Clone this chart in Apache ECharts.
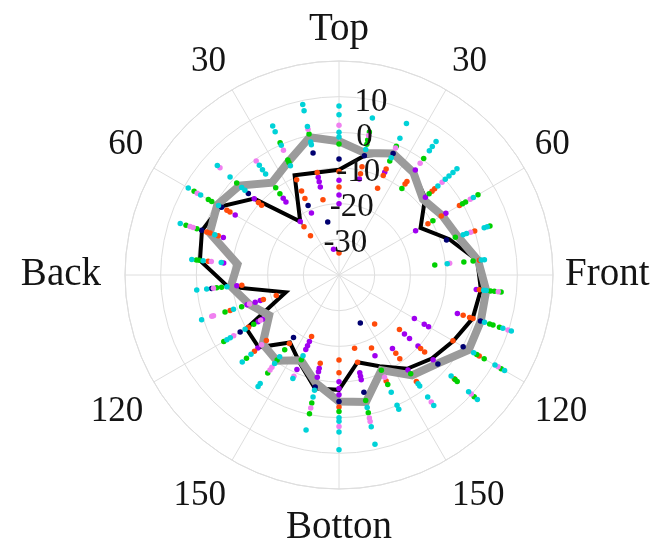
<!DOCTYPE html>
<html>
<head>
<meta charset="utf-8">
<script src="https://cdn.jsdelivr.net/npm/echarts/dist/echarts.min.js"></script>
<style>
  html, body { margin: 0; padding: 0; background: #ffffff; }
  #chart { width: 661px; height: 542px; }
</style>
</head>
<body>
<div id="chart"></div>
<script>
// Direction of each measurement ray, clockwise from the top (degrees)
const angles = [0, 12, 24, 36, 48, 60, 72, 84, 96, 108, 120, 132, 144, 156, 168,
                180, 192, 204, 216, 228, 240, 252, 264, 276, 288, 300, 312, 324, 336, 348];

// Black profile (one value per ray)
const blackProfile = [-10.5, -5.8, -2.7, -4.5, -7.5, -13.6, -7.5, -1, 0, -0.6, -3, -5, -7.5, -12, -15,
                      -7.8, -7.5, -13, -16.6, -9.7, -10, -24.3, -8.7, -0.8, 0.4, -1.6, -8, -21.5, -9.4, -10.6];

// Grey profile (one value per ray)
const greyProfile = [-2.5, -5, -2.7, -4.5, -8.3, -6.6, -5, -0.8, 1.5, 1.8, 2, -2.9, -5.2, -10.8, -3.6,
                     -4.5, -9, -13.8, -10.3, -11.2, -17.4, -13.5, -9.5, -11.4, -1.9, -0.6, -2.5, -8, -5.2, -0.5];

// Individual measurements as [angle, value]
const navyPts = [[0,-7.5],[12,-5.8],[24,-2.7],[72,-8.3],[108,1.7],[120,0.2],[132,-2.7],[156,-25.3],[168,-6.4],
  [180,-4.5],[192,-7.9],[216,-18.3],[240,-8],[264,-4.1],[288,0.5],[300,-2],[312,-5.8],[336,-18.7],[348,-5],[348,-24.8]];

const purplePts = [[0,-13.4],[0,-17.6],[0,-20],[12,-12.5],[24,-8.5],[36,-3.6],[48,-7.4],[60,-5.4],[60,-15.2],[96,-1.3],
  [108,-5.1],[120,-11],[120,-12.4],[120,-15.6],[132,-4.5],[132,-10.2],[132,-13.4],[132,-15.3],[144,-7.1],[144,-14.5],
  [156,-15.2],[168,-10],[168,-11],[168,-12],[180,-6.4],[180,-8.2],[180,-10.1],[192,-10.7],[192,-12.3],[192,-13.3],
  [204,-11],[204,-17.1],[204,-18.3],[204,-19.6],[228,-9.4],[240,-13.8],[240,-15.2],[252,-12.9],[252,-15.3],[252,-16.8],
  [264,-11.2],[276,-7.5],[288,-5.9],[300,-6.4],[312,-8],[324,-13.4],[324,-14.7],[324,-21.5],[336,-21],
  [348,-12],[348,-13.3],[348,-14.8],[348,-32.6]];

const orangePts = [[0,-11],[0,-15.3],[0,-33.8],[12,-9],[12,-11],[24,-7.5],[24,-9.5],[24,-13.4],[36,-7.6],[36,-8.5],
  [48,-3.9],[48,-4.9],[60,-1],[60,-6.9],[60,-11.2],[72,0],[84,-0.4],[96,-0.4],[108,-0.5],[108,-1.5],[108,-3.4],
  [120,5.4],[120,-3.1],[132,3.5],[132,-7.7],[132,-9.2],[132,-17.2],[144,-3.1],[144,-11],[144,-12.9],[144,-23],
  [156,-7.5],[156,-17.6],[168,-15],[168,-19],[180,-3],[180,-12.6],[180,-16.2],[192,-14.7],[204,-21.1],[216,-16.3],
  [228,-8.1],[228,-12.6],[240,-10.7],[252,-7.9],[252,-17.7],[252,-21.5],[264,-12.6],[276,-3.1],[288,-1],[288,-2],
  [288,-4.4],[300,-3.7],[300,-4.7],[312,-9.6],[312,-10.8],[324,-23.3],[324,-26.4],[336,-10.8],[336,-14.2],[336,-16.5],
  [348,-10.6],[348,-18.4]];

const greenPts = [[0,-3.3],[12,1],[12,-1.3],[12,-2.5],[24,-0.5],[24,-5],[36,0.4],[36,-10],[48,-6],[60,5],[60,1],[60,0],
  [60,-9.6],[72,4.5],[72,-5.7],[84,-2.2],[84,-4.8],[84,-13],[96,5.7],[96,3.8],[96,2.7],[108,7.3],[108,5.4],[108,4.4],
  [120,12.5],[120,7],[120,4.6],[132,11],[132,4.6],[132,3.8],[144,-5.8],[156,-6.4],[156,-10.8],[168,-0.5],[168,-4],
  [180,-1.7],[192,-0.2],[192,-3.3],[204,-14],[216,-6],[216,-10.5],[216,-14.1],[228,-5.1],[240,-2.7],[240,-12.4],
  [252,-6.4],[252,-11.3],[264,-5.5],[264,-6.9],[276,0.2],[276,-0.6],[288,5.1],[288,1.9],[300,6.9],[300,2.3],[300,1.2],
  [312,-1.4],[324,-9.8],[324,-11.8],[336,0.6],[336,-4.7],[336,-5.5],[348,0.4]];

const pinkPts = [[0,2],[12,0],[24,-1],[36,-1.3],[48,-1.1],[60,2.5],[72,-1.2],[84,-8.8],[96,4.9],[108,9.8],[120,11.5],
  [132,9.9],[144,4],[156,-8.6],[168,2],[168,1],[180,2.5],[192,-1.9],[204,-8.9],[216,-7.1],[216,-8],[228,-10.8],
  [240,-5.9],[240,-14.6],[252,-2.5],[252,-3],[252,-13.6],[264,-4.6],[276,-4],[288,3.9],[288,3],[300,5.9],[312,4.9],
  [324,-0.5],[336,-1.7],[348,1.8]];

const cyanPts = [[0,7.4],[0,4.9],[0,0],[0,-1.3],[12,5],[12,-4],[24,6.5],[24,2],[24,-4],[36,6.3],[36,4.5],[36,3.1],
  [48,4.5],[48,3],[48,1.5],[48,0.1],[48,-2.7],[60,3.5],[72,3.7],[72,2.8],[72,-2.4],[72,-3.4],[84,1],[84,0.1],[84,-9.5],
  [96,1.5],[96,0.8],[108,10.8],[108,8.3],[108,2.9],[120,13.6],[120,10.5],[120,3.6],[132,12.2],[132,8.9],[132,2.3],
  [144,5.2],[144,2.3],[144,-1.5],[144,-2.3],[156,1.2],[156,0],[156,-4],[168,8.5],[168,3.5],[168,-2],[180,9],[180,4],
  [180,1],[180,0],[192,4.4],[192,-5],[192,-7],[204,-8.2],[204,-15.2],[216,-1.4],[216,-2.4],[216,-9.3],[216,-11.7],
  [228,-3.5],[228,-6.8],[240,-3.7],[240,-4.8],[240,-9.6],[252,0.5],[252,-8.9],[264,0.1],[264,-2.7],[264,-8.4],
  [276,1.5],[276,-1.7],[276,-6.8],[288,6.8],[288,-3.4],[300,8.8],[300,4.8],[300,-1],[312,5.9],[312,1.1],[312,-3.3],
  [312,-4.5],[324,-2],[324,-3.5],[324,-5],[336,5.7],[336,4],[336,-0.2],[336,-6.5],[348,8.9],[348,7.1],[348,2.6],
  [348,-1.9],[348,-2.7]];

// Angular tick labels every 30 degrees, and radial tick values
const angleTickLabels = ['Top', '30', '60', 'Front', '120', '150', 'Botton', '150', '120', 'Back', '60', '30'];
const radialTickValues = [10, 0, -10, -20, -30];
const radialLabelAngle = 10.3;

const serif = "'Liberation Serif', 'Times New Roman', serif";
const gridColor = '#dedede';
const textColor = '#141414';

// closed polyline in polar coordinates: [radius, angle]
function profile(values) {
  const pts = values.map((v, i) => [v, angles[i]]);
  pts.push([values[0], 360]);
  return pts;
}

function dots(name, pts, color) {
  return {
    name: name,
    type: 'scatter',
    coordinateSystem: 'polar',
    symbol: 'circle',
    symbolSize: 5.5,
    z: 4,
    itemStyle: { color: color, opacity: 1 },
    data: pts.map(p => [p[1], p[0]])
  };
}

// rich style key for each angular label
function labelStyleKey(angle, text) {
  if (text === 'Back') return 'back';
  if (text === 'Botton') return 'bottom';
  const isNum = /^[0-9]+$/.test(text);
  if (!isNum) return 'word';
  if (angle === 150 || angle === 210) return 'numLow2';
  if (angle === 120 || angle === 240) return 'numLow1';
  return 'num';
}

const chart = echarts.init(document.getElementById('chart'), null, { renderer: 'canvas' });

chart.setOption({
  animation: false,
  backgroundColor: '#ffffff',
  polar: { center: [339, 275], radius: 214 },
  angleAxis: {
    type: 'value',
    min: 0,
    max: 360,
    interval: 30,
    startAngle: 90,
    clockwise: true,
    axisLine: { show: true, lineStyle: { color: gridColor, width: 1 } },
    axisTick: { show: false },
    splitLine: { show: true, lineStyle: { color: gridColor, width: 1 } },
    axisLabel: {
      margin: 12,
      fontFamily: serif,
      color: textColor,
      formatter: function (v) {
        if (v >= 360 || v % 30 !== 0) return '';
        const t = angleTickLabels[v / 30];
        return '{' + labelStyleKey(v, t) + '|' + t + '}';
      },
      rich: {
        num: { fontFamily: serif, fontSize: 35, color: textColor },
        numLow1: { fontFamily: serif, fontSize: 35, color: textColor, padding: [6, 0, 0, 0] },
        numLow2: { fontFamily: serif, fontSize: 35, color: textColor, padding: [8, 0, 0, 0] },
        word: { fontFamily: serif, fontSize: 39, color: textColor },
        bottom: { fontFamily: serif, fontSize: 39, color: textColor, padding: [7, 0, 0, 0] },
        back: { fontFamily: serif, fontSize: 39, color: textColor, padding: [0, 12, 0, 0] }
      }
    }
  },
  radiusAxis: {
    type: 'value',
    min: -40,
    max: 20,
    interval: 10,
    axisLine: { show: false },
    axisTick: { show: false },
    axisLabel: { show: false },
    splitLine: { show: true, lineStyle: { color: gridColor, width: 1 } }
  },
  series: [
    {
      name: 'black',
      type: 'line',
      coordinateSystem: 'polar',
      showSymbol: false,
      z: 2,
      lineStyle: { color: '#000000', width: 4, join: 'miter' },
      data: profile(blackProfile)
    },
    {
      name: 'grey',
      type: 'line',
      coordinateSystem: 'polar',
      showSymbol: false,
      z: 3,
      lineStyle: { color: '#9b9b9b', width: 8, join: 'miter' },
      data: profile(greyProfile)
    },
    dots('navy', navyPts, '#000070'),
    dots('purple', purplePts, '#a000f0'),
    dots('orange', orangePts, '#ff4a0a'),
    dots('green', greenPts, '#00d000'),
    dots('pink', pinkPts, '#f080f0'),
    dots('cyan', cyanPts, '#00d2d8'),
    {
      name: 'radial ticks',
      type: 'scatter',
      coordinateSystem: 'polar',
      symbolSize: 0,
      z: 6,
      silent: true,
      itemStyle: { opacity: 1 },
      label: {
        show: true,
        position: 'inside',
        offset: [0, 3],
        fontFamily: serif,
        fontSize: 33,
        color: textColor,
        formatter: function (p) { return String(p.value[0]); }
      },
      data: radialTickValues.map(v => [v, radialLabelAngle])
    }
  ]
});
</script>
</body>
</html>
